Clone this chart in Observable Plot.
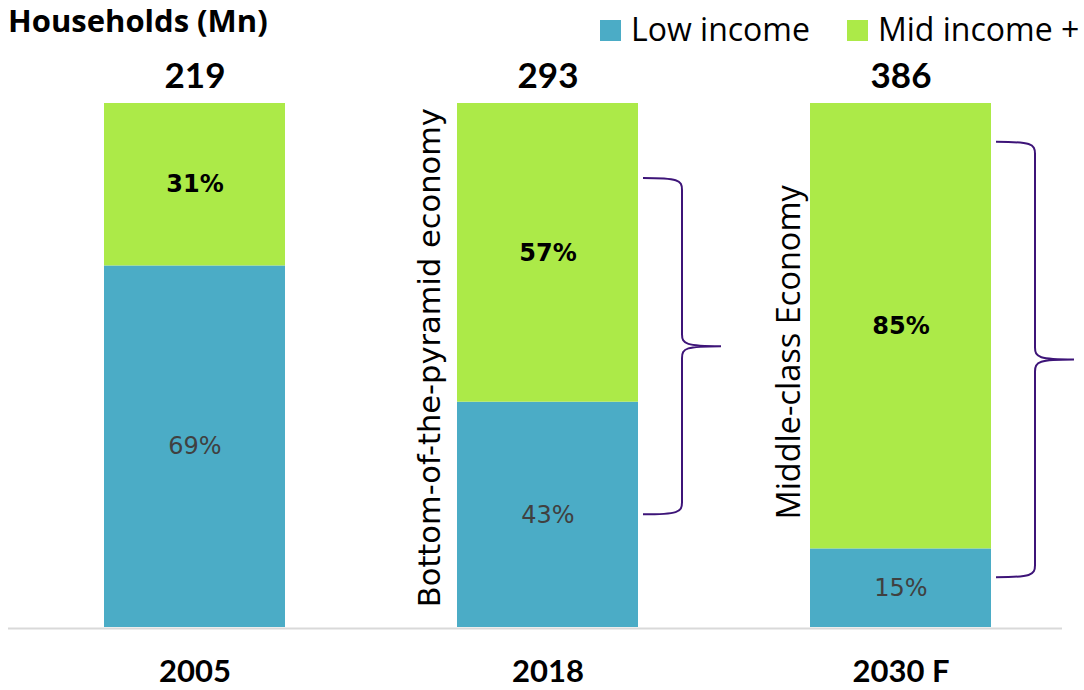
<!DOCTYPE html>
<html>
<head>
<meta charset="utf-8">
<script src="https://cdn.jsdelivr.net/npm/d3@7"></script>
<script src="https://cdn.jsdelivr.net/npm/@observablehq/plot@0.6"></script>
<style>
  html, body { margin: 0; padding: 0; background: #fff; }
  body { width: 1084px; height: 690px; overflow: hidden; }
  #header { position: relative; height: 50px; width: 1084px; }
  #title { position: absolute; left: 8px; top: 2px; font: bold 31px "Open Sans", sans-serif; color: #000; line-height: 36px; white-space: nowrap; }
  .sw { position: absolute; top: 20px; width: 21px; height: 21px; }
  .lt { position: absolute; top: 8px; font: 32px "Open Sans", sans-serif; color: #000; line-height: 42px; white-space: nowrap; }
  #chart svg g[aria-label^="x-axis"] text { font: bold 31px Lato, sans-serif !important; fill: #000 !important; }
</style>
</head>
<body>
<div id="header">
  <div id="title"></div>
  <div id="legend"></div>
</div>
<div id="chart"></div>
<script>
// ---- data ----
const years = ["2005", "2018", "2030 F"];
const totals = [219, 293, 386];
const lowIncomeShare = [69, 43, 15];
const midIncomeShare = [31, 57, 85];
const seriesNames = ["Low income", "Mid income +"];
const seriesColors = ["#4bacc6", "#acea48"];
const titleText = "Households (Mn)";
const braceYears = ["2018", "2030 F"];
const braceFrom = [21.5, 9.5];
const braceTo = [85.7, 92.6];
const economyLabels = ["Bottom-of-the-pyramid economy", "Middle-class Economy"];
const economyLabelY = [51.5, 52.5];

// ---- header: title + legend ----
document.getElementById("title").textContent = titleText;
const legend = document.getElementById("legend");
const legendX = [600, 847];
seriesNames.forEach((name, i) => {
  const sw = document.createElement("div");
  sw.className = "sw";
  sw.style.left = legendX[i] + "px";
  sw.style.background = seriesColors[i];
  legend.appendChild(sw);
  const t = document.createElement("div");
  t.className = "lt";
  t.style.left = (legendX[i] + 31) + "px";
  t.textContent = name;
  legend.appendChild(t);
});

const rows = years.flatMap((yr, i) => [
  {year: yr, segment: seriesNames[0], value: lowIncomeShare[i]},
  {year: yr, segment: seriesNames[1], value: midIncomeShare[i]}
]);

function braces(index, scales) {
  const sx = scales.x, sy = scales.y;
  const bw = typeof sx.bandwidth === "function" ? sx.bandwidth() : 0;
  const g = d3.create("svg:g").attr("fill", "none").attr("stroke", "#3d1478").attr("stroke-width", 2);
  braceYears.forEach((yr, i) => {
    const xr = sx(yr) + bw;
    const x0 = xr + 5, x1 = xr + 44, x2 = xr + 83;
    const yT = sy(braceTo[i]), yB = sy(braceFrom[i]), yM = (yT + yB) / 2;
    const r = 12;
    const d = `M${x0},${yT} C${x1 - 4},${yT} ${x1},${yT + 2} ${x1},${yT + r}` +
      ` L${x1},${yM - r} C${x1},${yM - 2} ${x1 + 4},${yM} ${x2},${yM}` +
      ` M${x2},${yM} C${x1 + 4},${yM} ${x1},${yM + 2} ${x1},${yM + r}` +
      ` L${x1},${yB - r} C${x1},${yB - 2} ${x1 - 4},${yB} ${x0},${yB}`;
    g.append("path").attr("d", d);
  });
  return g.node();
}

const chart = Plot.plot({
  width: 1084,
  height: 640,
  marginTop: 53,
  marginBottom: 63,
  marginLeft: 8,
  marginRight: 22,
  x: {domain: years, range: [18, 1077], paddingInner: 0.487, paddingOuter: 0.2435, align: 0.5, tickSize: 0, tickPadding: 32, label: null},
  y: {domain: [0, 100], axis: null},
  color: {domain: seriesNames, range: seriesColors},
  marks: [
    Plot.barY(rows, Plot.stackY({x: "year", y: "value", fill: "segment"})),
    Plot.ruleY([0], {stroke: "#d9d9d9", strokeWidth: 2, dy: 1}),
    Plot.text(years, {x: d => d, y: (d, i) => lowIncomeShare[i] / 2, text: (d, i) => lowIncomeShare[i] + "%",
      fill: "#404040", fontSize: 24, fontFamily: "DejaVu Sans"}),
    Plot.text(years, {x: d => d, y: (d, i) => lowIncomeShare[i] + midIncomeShare[i] / 2, text: (d, i) => midIncomeShare[i] + "%",
      fill: "#000", fontSize: 24, fontWeight: "bold", fontFamily: "DejaVu Sans"}),
    Plot.text(years, {x: d => d, y: () => 100, text: (d, i) => String(totals[i]), dy: -27,
      fill: "#000", fontSize: 35, fontWeight: "bold", fontFamily: "Lato"}),
    Plot.text([0], {x: () => braceYears[0], y: () => economyLabelY[0], text: () => economyLabels[0], rotate: -90, dx: -118,
      fill: "#000", fontSize: 30.5, fontFamily: "DejaVu Sans"}),
    Plot.text([0], {x: () => braceYears[1], y: () => economyLabelY[1], text: () => economyLabels[1], rotate: -90, dx: -111,
      fill: "#000", fontSize: 32.5, fontFamily: "Open Sans"}),
    braces
  ]
});
document.getElementById("chart").appendChild(chart);
</script>
</body>
</html>
